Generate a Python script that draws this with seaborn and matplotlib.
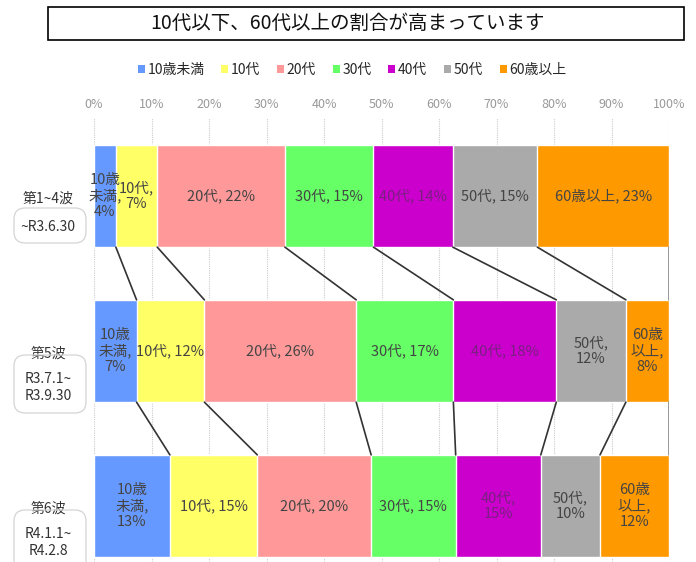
import numpy as np
import pandas as pd
import seaborn as sns
import matplotlib.pyplot as plt
from matplotlib.patches import Patch, Rectangle, FancyBboxPatch
from matplotlib.transforms import IdentityTransform

# data (percent of cases per wave)
waves = ['第1~4波', '第5波', '第6波']
periods = ['~R3.6.30', 'R3.7.1~\nR3.9.30', 'R4.1.1~\nR4.2.8']
age_groups = ['10歳未満', '10代', '20代', '30代', '40代', '50代', '60歳以上']
share_wave1_4 = [3.8, 7.2, 22.2, 15.4, 13.8, 14.7, 22.9]
share_wave5 = [7.4, 11.8, 26.4, 16.9, 17.9, 12.1, 7.5]
share_wave6 = [13.2, 15.2, 19.8, 14.7, 14.8, 10.3, 12.0]
label_pct = [[4, 7, 22, 15, 14, 15, 23],
             [7, 12, 26, 17, 18, 12, 8],
             [13, 15, 20, 15, 15, 10, 12]]
colors = ['#6699FF', '#FFFF66', '#FF9999', '#66FF66', '#CC00CC', '#AAAAAA', '#FF9900']

# labels that wrap inside narrow segments
wrapped = {(0, 0): '10歳\n未満,\n{}%', (0, 1): '10代,\n{}%',
           (1, 0): '10歳\n未満,\n{}%', (1, 5): '50代,\n{}%', (1, 6): '60歳\n以上,\n{}%',
           (2, 0): '10歳\n未満,\n{}%', (2, 4): '40代,\n{}%', (2, 5): '50代,\n{}%',
           (2, 6): '60歳\n以上,\n{}%'}

sns.set_style('white')
plt.rcParams['font.family'] = ['Noto Sans CJK JP', 'DejaVu Sans']

shares = np.array([share_wave1_4, share_wave5, share_wave6])
cum = np.cumsum(shares, axis=1)
cum = cum / cum[:, -1:] * 100

W, H = 696, 562
fig = plt.figure(figsize=(W / 100, H / 100), dpi=100)
ax = fig.add_axes([94 / W, 0, 575 / W, (H - 118) / H])

bar_h = 0.66
# stacked bars: draw cumulative totals from the widest down
for j in range(len(age_groups) - 1, -1, -1):
    df = pd.DataFrame({'wave': waves, 'cum': cum[:, j]})
    sns.barplot(data=df, x='cum', y='wave', orient='h', color=colors[j],
                width=bar_h, saturation=1, ax=ax, zorder=2)

# connector lines between segment boundaries
for i in range(len(waves) - 1):
    for j in range(len(age_groups)):
        lc = '#888888' if j == len(age_groups) - 1 else '#333333'
        ax.plot([cum[i, j], cum[i + 1, j]], [i + bar_h / 2, i + 1 - bar_h / 2],
                color=lc, lw=1.2, zorder=3)

# segment labels
for i in range(len(waves)):
    left = 0
    for j in range(len(age_groups)):
        right = cum[i, j]
        fmt = wrapped.get((i, j), age_groups[j] + ', {}%')
        tc = '#7a1f82' if j == 4 else '#444444'
        ax.text((left + right) / 2, i, fmt.format(label_pct[i][j]), ha='center',
                va='center', fontsize=10.5, color=tc, linespacing=1.15, zorder=4)
        left = right

# wave labels on the left, dates inside a rounded bracket box
ytr = ax.get_yaxis_transform()
box_rows = [(208, 243), (355, 413), (510, 575)]  # pixel rows of the boxes (from top)
date_off = [0.2, 0.235, 0.235]
for i in range(len(waves)):
    y0, y1 = box_rows[i]
    fig.add_artist(FancyBboxPatch((14, H - y1), 72, y1 - y0,
                                  boxstyle='round,pad=0,rounding_size=11',
                                  transform=IdentityTransform(), fc='none',
                                  ec='#d4d4d4', lw=0.9))
    ax.text(-0.08, i + date_off[i], periods[i], transform=ytr, ha='center', va='center',
            fontsize=10, color='#333333', linespacing=1.25)
    ax.text(-0.08, i + 0.02, waves[i], transform=ytr, ha='center', va='center',
            fontsize=10, color='#333333', zorder=5,
            bbox=dict(boxstyle='square,pad=0.15', fc='white', ec='none'))

ax.set_xlim(0, 100)
ax.set_ylim(2.361, -0.503)
ax.set_xticks(np.arange(0, 101, 10))
ax.set_xticklabels([f'{t}%' for t in range(0, 101, 10)])
ax.xaxis.tick_top()
ax.tick_params(axis='x', length=0, colors='#999999', labelsize=9, pad=5)
ax.set_yticks([])
ax.set_xlabel('')
ax.set_ylabel('')
ax.set_axisbelow(True)
ax.xaxis.grid(True, color='#cccccc', linestyle=(0, (1, 1)), lw=0.8)
for s in ax.spines.values():
    s.set_visible(False)

# legend
handles = [Patch(facecolor=c, edgecolor='none', label=a) for a, c in zip(age_groups, colors)]
fig.legend(handles=handles, loc='center', bbox_to_anchor=(0.506, 1 - 70 / H), ncol=7,
           frameon=False, fontsize=10, handlelength=0.5, handleheight=0.5,
           handletextpad=0.2, columnspacing=1.2)

# boxed title
fig.patches.append(Rectangle((48 / W, 1 - 40 / H), 636 / W, 33 / H,
                             transform=fig.transFigure, fill=False, ec='black', lw=1.2))
fig.text(0.5, 1 - 23.5 / H, '10代以下、60代以上の割合が高まっています',
         ha='center', va='center', fontsize=14, color='#111111')

fig.savefig('out.png', dpi=100)
